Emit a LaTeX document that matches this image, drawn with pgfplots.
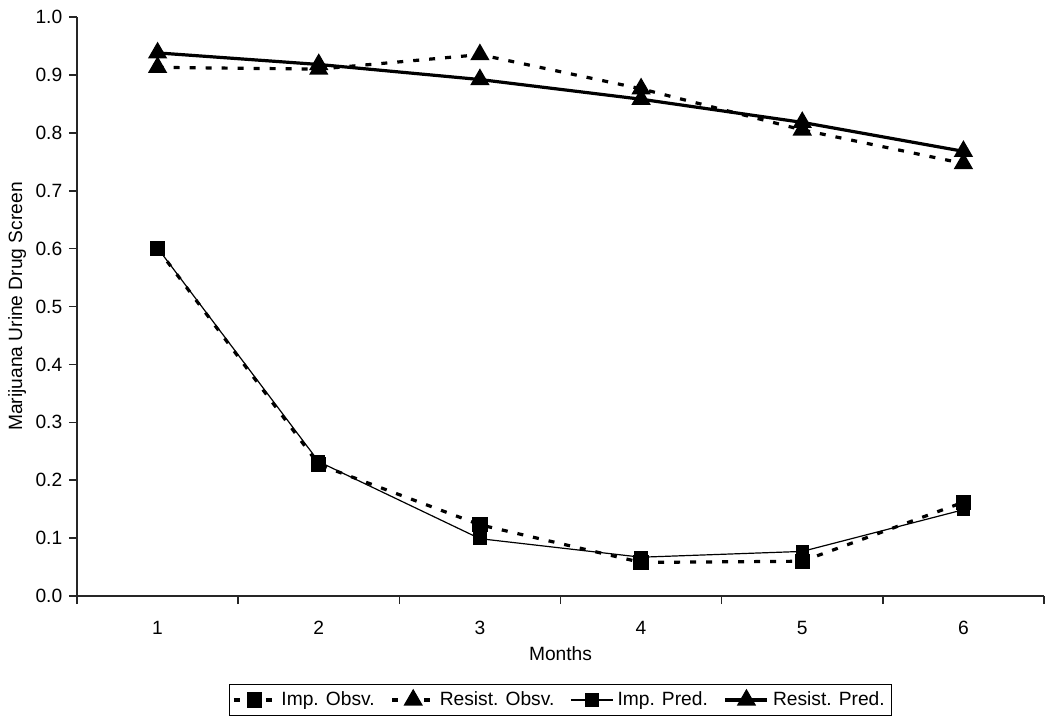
\documentclass[border=0pt]{standalone}
\usepackage{pgfplots}
\pgfplotsset{compat=1.18}
\usepackage{fontspec}
\setmainfont{Liberation Sans}
\begin{document}
\fontsize{9.6}{11}\selectfont
\begin{tikzpicture}
\begin{axis}[
  scale only axis,
  width=483.5pt, height=289.5pt,
  at={(0,0)}, anchor=south west,
  xmin=0.5, xmax=6.5, ymin=0, ymax=1,
  axis lines*=left,
  axis line style={line width=0.8pt, black!85},
  xtick={1,...,6},
  major x tick style={draw=none},
  minor xtick={0.5,1.5,...,6.5},
  minor tick length=4pt,
  minor x tick style={line width=0.8pt, black!85},
  ytick={0,0.1,...,1.0},
  major tick length=4pt,
  tick align=outside,
  y tick style={line width=0.8pt, black!85},
  yticklabel style={/pgf/number format/fixed, /pgf/number format/fixed zerofill, /pgf/number format/precision=1},
  /pgf/number format/assume math mode=true,
  xticklabel style={yshift=-5pt},
  tick label style={font=\fontsize{9.6}{11}\selectfont},
  label style={font=\fontsize{9.6}{11}\selectfont},
  xlabel={Months},
  xlabel style={at={(axis description cs:0.5,-0.1)}, anchor=center},
  ylabel={Marijuana Urine Drug Screen},
  ylabel style={at={(axis description cs:-0.062,0.5)}, anchor=center},
  legend columns=4,
  legend style={at={(0.5,-0.152)}, anchor=north, draw=black, line width=0.6pt,
    font=\fontsize{9.6}{11}\selectfont, inner sep=1.5pt,
    /tikz/every even column/.append style={column sep=6pt}},
  legend image code/.code={%
    \draw[mark repeat=2,mark phase=2,#1] plot coordinates {(0pt,0pt) (10.5pt,0pt) (21pt,0pt)};},
  legend cell align=left,
  clip=false,
]
\addplot[black, line width=1.6pt, dash pattern=on 3pt off 5pt, mark=square*, mark size=3pt, mark options={solid}]
  coordinates {(1,0.600) (2,0.227) (3,0.123) (4,0.058) (5,0.060) (6,0.162)};
\addlegendentry{Imp. Obsv.}
\addplot[black, line width=1.6pt, dash pattern=on 3pt off 5pt, mark=triangle*, mark size=4pt, mark options={solid}]
  coordinates {(1,0.913) (2,0.910) (3,0.935) (4,0.876) (5,0.805) (6,0.747)};
\addlegendentry{Resist. Obsv.}
\addplot[black, line width=0.6pt, mark=square*, mark size=3pt]
  coordinates {(1,0.601) (2,0.232) (3,0.099) (4,0.067) (5,0.077) (6,0.149)};
\addlegendentry{Imp. Pred.}
\addplot[black, line width=1.6pt, mark=triangle*, mark size=4pt]
  coordinates {(1,0.938) (2,0.918) (3,0.892) (4,0.858) (5,0.818) (6,0.768)};
\addlegendentry{Resist. Pred.}
\end{axis}
\pgfresetboundingbox
\path[use as bounding box] (-38.5pt,-63.5pt) rectangle (486.5pt,298pt);
\end{tikzpicture}
\end{document}
